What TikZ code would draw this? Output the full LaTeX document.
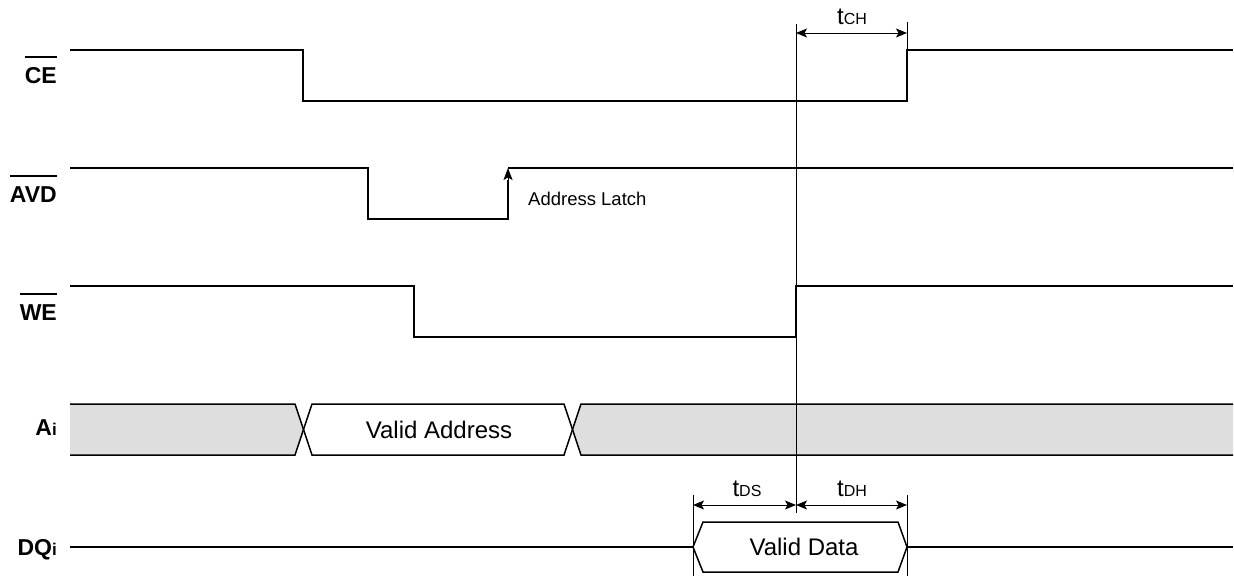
\documentclass[tikz,border=0pt]{standalone}
\usepackage{fontspec}
\setmainfont{Liberation Sans}
\usetikzlibrary{arrows.meta}
\newcommand\tsub[1]{{\fontsize{16}{18}\selectfont #1}}
\newcommand\isub[1]{{\fontsize{17}{19}\selectfont #1}}
\begin{document}
\begin{tikzpicture}[x=1pt,y=-1pt,
  sig/.style={line width=2pt, line join=miter},
  hair/.style={line width=1pt},
  dimarrow/.style={line width=1pt,{Stealth[length=11pt,width=9pt,inset=2.5pt]}-{Stealth[length=11pt,width=9pt,inset=2.5pt]}},
  lbl/.style={font=\fontsize{23}{26}\selectfont\bfseries, anchor=base east, inner sep=0pt},
  txt/.style={font=\fontsize{24}{27}\selectfont, anchor=base, inner sep=0pt},
  small/.style={font=\fontsize{18.5}{21}\selectfont, anchor=base west, inner sep=0pt},
  ovl/.style={line width=2.5pt},
  busfill/.style={fill=black!13}]
\useasboundingbox (0,0) rectangle (1234,576);
% labels
\node[lbl] (ce) at (57,83) {CE};
\draw[ovl] ([yshift=26pt]ce.base west) -- ([yshift=26pt]ce.base east);
\node[lbl] (avd) at (57,202) {AVD};
\draw[ovl] ([yshift=26pt]avd.base west) -- ([yshift=26pt]avd.base east);
\node[lbl] (we) at (57,320) {WE};
\draw[ovl] ([yshift=26pt]we.base west) -- ([yshift=26pt]we.base east);
\node[lbl] (ai) at (57,435) {A\isub{i}};
\node[lbl] (dq) at (57,555) {DQ\isub{i}};
% CE
\draw[sig] (70,50) -- (303,50) -- (303,101) -- (907,101) -- (907,50) -- (1233,50);
% AVD
\draw[sig] (70,168) -- (368,168) -- (368,219) -- (508,219) -- (508,180);
\draw[sig] (508,168) -- (1233,168);
\coordinate (latchlow) at (508,200);
\coordinate (latchtop) at (508,168);
\draw[hair,-{Stealth[length=12pt,width=9pt,inset=2.5pt]}] (latchlow) -- (latchtop);
\node[small] (latch) at (528,205) {Address Latch};
% WE
\draw[sig] (70,286) -- (414,286) -- (414,337) -- (796,337) -- (796,286) -- (1233,286);
% Ai bus
\fill[busfill] (70,404) -- (295,404) -- (303.5,429.5) -- (295,455) -- (70,455) -- cycle;
\fill[busfill] (572.5,429.5) -- (581,404) -- (1233,404) -- (1233,455) -- (581,455) -- cycle;
\draw[line width=1.5pt] (70,404) -- (295,404) -- (312,455) -- (564,455) -- (581,404) -- (1233,404);
\draw[line width=1.5pt] (70,455) -- (295,455) -- (312,404) -- (564,404) -- (581,455) -- (1233,455);
\node[txt] (va) at (439,438) {Valid Address};
% DQi
\draw[sig] (70,547) -- (693,547);
\draw[sig] (907,547) -- (1233,547);
\draw[line width=1.5pt] (693,547) -- (703,522) -- (898,522) -- (907,547) -- (898,572) -- (703,572) -- cycle;
\node[txt] (vd) at (804,555) {Valid Data};
% reference lines
\draw[hair] (796,24) -- (796,513);
\draw[hair] (907,22) -- (907,50);
\draw[hair] (693,495) -- (693,576);
\draw[hair] (907,495) -- (907,576);
% dimensions
\coordinate (ch1) at (796,33);
\coordinate (ch2) at (907,33);
\draw[dimarrow] (ch1) -- (ch2);
\node[txt] (tch) at (852,24) {t\tsub{CH}};
\coordinate (ds1) at (693,505);
\coordinate (ds2) at (796,505);
\coordinate (dh2) at (907,505);
\draw[dimarrow] (ds1) -- (ds2);
\draw[dimarrow] (ds2) -- (dh2);
\node[txt] (tds) at (747,496) {t\tsub{DS}};
\node[txt] (tdh) at (852,496) {t\tsub{DH}};
\end{tikzpicture}
\end{document}
